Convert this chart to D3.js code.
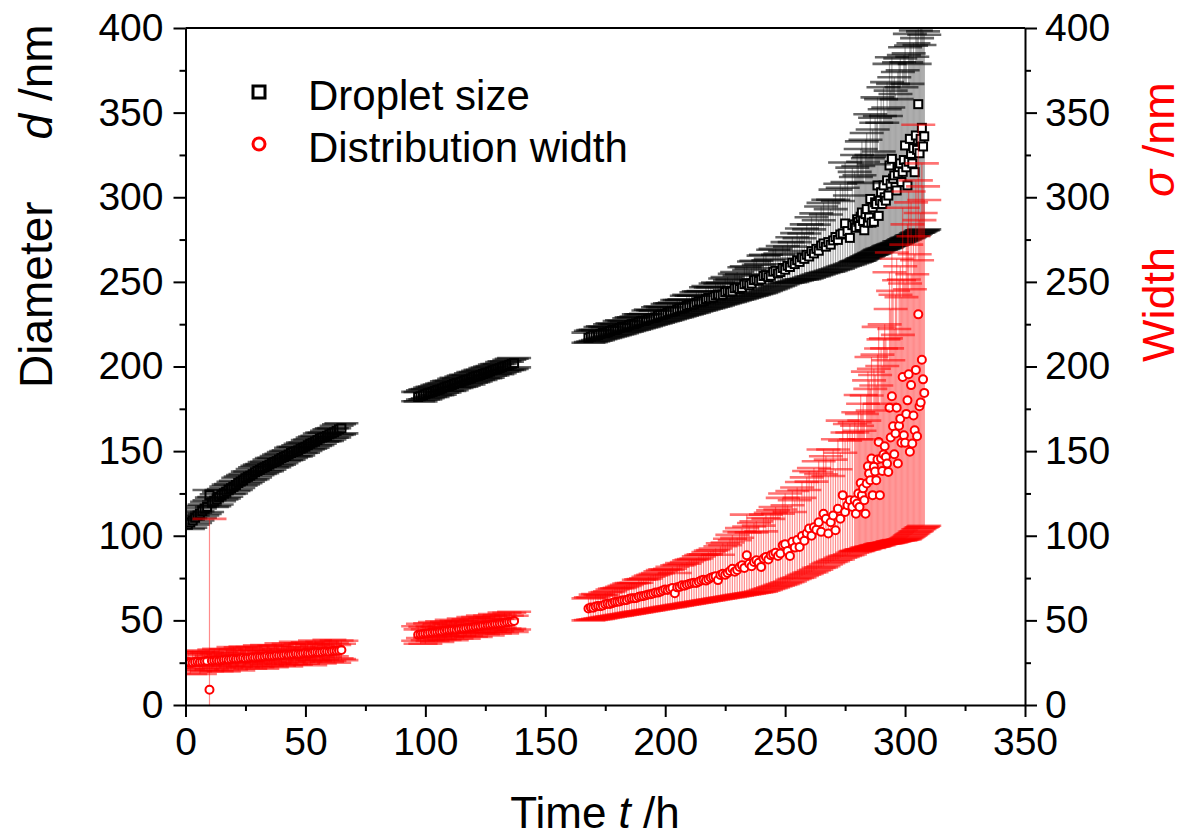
<!DOCTYPE html>
<html lang="en">
<head>
<meta charset="UTF-8">
<title>Droplet size and distribution width</title>
<script src="https://d3js.org/d3.v7.min.js"></script>
<style>
  body { margin: 0; background: #fff; }
  svg { display: block; font-family: Arial, "Liberation Sans", sans-serif; }
</style>
</head>
<body>
<svg id="chart" width="1183" height="839"></svg>
<script>
// time in h (three measurement runs)
const time = [
  1, 2, 3, 4, 5, 6, 7, 8, 9, 10,
  11, 12, 13, 14, 15, 16, 17, 18, 19, 20,
  21, 22, 23, 24, 25, 26, 27, 28, 29, 30,
  31, 32, 33, 34, 35, 36, 37, 38, 39, 40,
  41, 42, 43, 44, 45, 46, 47, 48, 49, 50,
  51, 52, 53, 54, 55, 56, 57, 58, 59, 60,
  61, 62, 63, 64, 65,
  97, 98, 99, 100, 101, 102, 103, 104, 105, 106,
  107, 108, 109, 110, 111, 112, 113, 114, 115, 116,
  117, 118, 119, 120, 121, 122, 123, 124, 125, 126,
  127, 128, 129, 130, 131, 132, 133, 134, 135, 136,
  137,
  168, 169, 170, 171, 172, 173, 174, 175, 176, 177,
  178, 179, 180, 181, 182, 183, 184, 185, 186, 187,
  188, 189, 190, 191, 192, 193, 194, 195, 196, 197,
  198, 199, 200, 201, 202, 203, 204, 205, 206, 207,
  208, 209, 210, 211, 212, 213, 214, 215, 216, 217,
  218, 219, 220, 221, 222, 223, 224, 225, 226, 227,
  228, 229, 230, 231, 232, 233, 234, 235, 236, 237,
  238, 239, 240, 241, 242, 243, 244, 245, 246, 247,
  248,
  249, 250, 251, 252, 253, 254, 255, 256, 257, 258, 259, 260, 261, 262, 263, 264, 265, 266, 267, 268, 269, 270, 271, 272, 273, 274, 275, 276, 277, 278, 279,
  279.5, 280, 280.5, 281, 281.5, 282, 282.5, 283, 283.5, 284, 284.5, 285, 285.5, 286, 286.5, 287, 287.5, 288, 288.5, 289, 289.5, 290, 290.5, 291, 291.5, 292, 292.5, 293, 293.5, 294,
  294.5, 295, 295.5, 296, 296.5, 297, 297.5, 298, 298.5, 299, 299.5, 300, 300.5, 301, 301.5, 302, 302.5, 303, 303.5, 304, 304.5, 305, 305.5, 306, 306.5, 307, 307.5, 308
];

// droplet diameter d /nm with lower / upper error
const diameter = [
  106.5, 107.8, 109, 110.6, 112, 113.1, 114.5, 115.9, 117, 124,
  119.5, 120.4, 121.5, 122.9, 124, 125.1, 126, 127.2, 128, 128.9,
  130, 131.2, 132, 132.8, 134, 134.9, 135.5, 136.4, 137.5, 138.3,
  139, 139.9, 140.5, 141.2, 142, 142.9, 143.5, 144.1, 145, 145.9,
  146.5, 147.1, 148, 148.9, 149.5, 149.9, 150.5, 151.4, 152, 152.6,
  153.5, 154.4, 155, 155.6, 156.5, 157.4, 158, 158.4, 159, 159.9,
  160.5, 161.1, 162, 162.9, 163.5,
  182, 182.4, 183, 183.6, 184.2, 184.5, 185, 185.6, 186.1, 186.4,
  187, 187.7, 188.2, 188.5, 189, 189.7, 190.3, 190.4, 191, 191.6,
  192.1, 192.4, 193, 193.7, 194.2, 194.5, 195, 195.6, 196.1, 196.4,
  197, 197.7, 198.2, 198.5, 199, 199.6, 200.1, 200.4, 201, 201.6,
  202,
  217, 217.6, 218.5, 218.2, 218.5, 219.3, 219.8, 219.9, 220.2, 221,
  221.5, 221.6, 222, 222.8, 223.3, 223.3, 223.6, 224.5, 225, 225,
  225.5, 226.3, 226.8, 226.9, 227.2, 228.1, 228.6, 228.7, 229, 230,
  230.5, 230.6, 231, 231.9, 232.4, 232.4, 232.8, 233.8, 234.3, 234.3,
  234.7, 235.8, 236.4, 236.3, 236.8, 237.9, 238.5, 238.3, 238.6, 239.8,
  240.5, 240.2, 240.8, 242, 242.6, 242, 242.5, 244, 244.8, 243.9,
  244.4, 246.2, 246.8, 245.8, 246.5, 248.6, 249.2, 248, 249, 251,
  251.5, 250.6, 251.4, 253.5, 254, 252.8, 253.6, 256, 256.5, 255,
  255.8,
  258.2, 257.2, 259.5, 258.8, 261.4, 260.5, 262.8, 261.8, 264.5, 263.6, 266, 265, 268.2, 266.8, 269.5, 268.4, 271.5, 272.7, 270.8, 273.5, 272, 274.5, 276.5, 274.8, 278, 278.6, 284.5, 280, 276, 283.5, 284,
  282, 287, 285.5, 283, 288.5, 291, 286, 280.5, 290, 293, 285, 288, 299, 285, 294, 285.5, 297, 296, 307, 289, 298, 303, 296, 307, 300, 298, 310, 301, 318.8, 308,
  322.7, 311, 312.9, 306, 304, 314, 317.8, 320, 309, 315, 322, 330.6, 317.7, 307, 321, 334.5, 325.6, 320, 329, 314.8, 336.5, 328, 355, 326, 334.5, 341, 330, 336
];
const diameterErrLow = [
  2.5, 3, 2.5, 3, 3, 2.5, 2.5, 3, 3, 3,
  2.5, 3, 3, 2.5, 2.5, 3, 3, 2.5, 3, 2.5,
  3, 3, 2.5, 2.5, 3, 3, 2.5, 3, 3, 2.5,
  2.5, 3, 2.5, 3, 3, 2.5, 3, 2.5, 3, 3,
  2.5, 2.5, 3, 3, 2.5, 3, 3, 2.5, 3, 2.5,
  2.5, 3, 3, 2.5, 3, 3, 2.5, 2.5, 3, 3,
  2.5, 3, 2.5, 3, 3,
  2.5, 3, 2.5, 3, 3, 2.5, 3, 2.5, 3, 3,
  2.5, 3, 2.5, 3, 3, 2.5, 3, 2.5, 3, 3,
  2.5, 3, 2.5, 3, 3, 2.5, 3, 2.5, 3, 3,
  2.5, 3, 2.5, 3, 3, 2.5, 3, 2.5, 3, 3,
  2.5,
  3, 3.2, 3.7, 3, 2.9, 3.2, 3.3, 3, 2.9, 3.3,
  3.4, 3.1, 3.1, 3.5, 3.6, 3.1, 3, 3.5, 3.6, 3.2,
  3.3, 3.7, 3.8, 3.5, 3.4, 3.8, 3.9, 3.6, 3.5, 4.1,
  4.2, 3.9, 3.9, 4.4, 4.5, 4, 4, 4.6, 4.7, 4.3,
  4.3, 5, 5.2, 4.7, 4.8, 5.4, 5.6, 5, 4.9, 5.7,
  6, 5.3, 5.5, 6.3, 6.5, 5.4, 5.5, 6.6, 7, 5.7,
  5.8, 7.2, 7.4, 6, 6.3, 7.9, 8.1, 6.5, 7.1, 8.7,
  8.8, 7.5, 7.9, 9.4, 9.4, 7.6, 7.9, 9.7, 9.7, 7.6,
  7.9,
  9.5, 8, 10, 9, 11.5, 10, 12, 10.5, 13, 12, 14, 12.5, 15, 13.5, 15.5, 14, 16.5, 17.5, 15, 17.5, 15.5, 17.5, 19, 17, 19.5, 19.5, 25, 20, 15.5, 22.5, 22.5,
  20, 25, 23, 20.5, 25.5, 27.5, 22, 16.5, 25.5, 28, 20, 22.5, 33, 19, 27.5, 18.5, 30, 28.5, 39, 20.5, 29, 34, 26.5, 37.5, 30, 28, 39.5, 30, 47.5, 36.5,
  51, 39, 40.5, 33.5, 31, 41, 44, 46, 35, 40.5, 47, 55.5, 42, 31, 45, 58, 48.5, 42.5, 51.5, 37, 58, 49, 76, 46.5, 54.5, 60.5, 49.5, 55
];
const diameterErrHigh = [
  3, 2.5, 3, 3, 2.5, 3, 3, 2.5, 3, 3,
  3, 2.5, 3, 3, 3, 2.5, 3, 3, 2.5, 3,
  2.5, 3, 3, 3, 2.5, 3, 2.5, 3, 3, 3,
  3, 2.5, 3, 2.5, 3, 3, 2.5, 3, 3, 2.5,
  3, 3, 2.5, 3, 3, 2.5, 3, 3, 3, 2.5,
  3, 2.5, 3, 3, 2.5, 3, 3, 2.5, 3, 3,
  3, 2.5, 3, 3, 3,
  3, 2.5, 3, 3, 2.5, 3, 3, 2.5, 3, 3,
  3, 2.5, 3, 3, 2.5, 3, 3, 2.5, 3, 3,
  3, 2.5, 3, 3, 2.5, 3, 3, 2.5, 3, 3,
  3, 2.5, 3, 3, 2.5, 3, 3, 2.5, 3, 3,
  3,
  3, 3.5, 3, 3.5, 3, 4, 4, 3.5, 3, 4,
  4, 3.5, 3, 4, 4, 3.5, 3, 4, 4, 4,
  4, 4.5, 4, 4, 4, 5, 5, 4.5, 4, 5,
  5, 4.5, 4, 5, 5, 5, 5, 5.5, 5, 5,
  5, 6, 6, 5.5, 5, 6, 6, 6, 6, 7,
  7, 6.5, 6, 7, 7, 7, 7, 8, 8, 7,
  7, 8.5, 9, 8, 8, 10, 10, 9, 9, 11,
  11, 9.5, 9, 12, 12, 10, 10, 13, 13, 11,
  11,
  13, 11, 14, 12, 15, 13, 16, 14, 17, 15, 18, 16, 20, 17, 21, 18, 23, 24, 19, 25, 21, 24, 28, 23, 30, 27, 36, 29, 25, 34, 31,
  30, 38, 33, 30, 40, 42, 35, 28, 44, 45, 38, 36, 50, 40, 46, 34, 50, 48, 52, 38, 50, 55, 48, 58, 52, 50, 58, 52, 60, 55,
  60, 56, 58, 55, 54, 60, 62, 62, 56, 60, 62, 58, 62, 60, 64, 62, 64, 63, 62, 64, 62, 66, 60, 64, 66, 62, 68, 60
];

// distribution width sigma /nm with lower / upper error
const width = [
  25.2, 24.9, 25, 25.4, 25.6, 25.3, 25.5, 25.9, 26, 9,
  26.1, 26.3, 26.5, 26.2, 26.4, 26.8, 26.9, 26.7, 27, 27.3,
  27.2, 27.4, 27.6, 27.8, 27.5, 27.7, 27.9, 28.2, 28.1, 28.4,
  28.3, 28.5, 28.6, 28.9, 28.7, 28.8, 29, 29.3, 29.2, 29.4,
  29.5, 29.8, 29.6, 29.8, 30, 30.3, 30.1, 30.2, 30.4, 30.7,
  30.6, 30.5, 30.8, 31.1, 31.1, 31, 31.3, 31.6, 31.6, 31.5,
  31.8, 32, 32.1, 32.2, 32.5,
  41.5, 41.7, 42, 42.2, 42.3, 42.7, 42.9, 43, 43.2, 43.4,
  43.5, 43.9, 44, 44.1, 44.3, 44.5, 44.3, 44.8, 45, 45.1,
  45.4, 45.7, 45.8, 45.9, 46.2, 46.4, 46.5, 46.9, 47, 47.1,
  47.3, 47.6, 47.8, 48, 48.2, 48.3, 48.6, 48.9, 49, 49.2,
  49.6,
  57, 57.6, 57.5, 58.2, 58.5, 58.4, 58.8, 59.5, 59.8, 59.7,
  60.2, 60.8, 61, 61.2, 61.8, 61.9, 62, 62.8, 63, 63.1,
  63.2, 64, 64.2, 64.4, 64.8, 65.3, 65.5, 65.9, 66.5, 66.4,
  67, 67.7, 68.2, 67.9, 68.5, 69.2, 66, 69.5, 69.8, 70.8,
  70.5, 71, 71.5, 72, 72.2, 72.1, 72.8, 73.6, 74, 73.5,
  74.3, 75.2, 75.6, 76, 73.8, 76.8, 77.5, 76.9, 78, 79.2,
  80.5, 78.8, 79.8, 81.5, 82.5, 81, 88.5, 83.5, 82, 84.5,
  85.5, 84, 81.6, 86.5, 87.5, 86, 88.5, 89, 90, 88,
  89.5,
  94.4, 95, 91, 88, 96.4, 93, 97.5, 93.4, 99.8, 97, 101.5, 104.3, 100, 105, 103.5, 108, 102.3, 113, 110, 101.3, 108, 112, 103.3, 116, 110, 124, 114.1, 118, 121, 117, 121,
  113, 119, 125, 117, 131.2, 124, 128, 121, 113, 130.9, 141, 136.8, 132.8, 145.6, 124, 140.7, 138, 132.8, 145, 155.4, 124, 145.6, 138.3, 148, 152.9, 146.6, 142.7, 137.7, 175.7, 158,
  182.4, 164.7, 148.2, 160.4, 175.7, 142.7, 165, 169.2, 155, 193.8, 159.4, 155, 172, 180, 195.4, 149.6, 189, 154.5, 171, 162.3, 198, 158.8, 230.8, 176.5, 178.7, 204, 192.4, 184.4
];
const widthErrLow = [
  4, 6.5, 3, 5.5, 2.5, 7, 4.5, 3, 6, 101,
  5, 2.5, 6.5, 4, 3, 7, 5, 3.5, 6, 2.5,
  4.5, 7, 3, 5.5, 4, 2.5, 6.5, 5, 3, 6,
  4, 7, 2.5, 5.5, 3.5, 6.5, 4.5, 3, 6, 5,
  2.5, 7, 4, 5.5, 3, 6.5, 4.5, 2.5, 6, 5,
  3.5, 7, 4, 5, 2.5, 6.5, 4.5, 3, 6, 5.5,
  3, 7, 4.5, 5, 6,
  3.5, 5.5, 2.5, 6, 4, 3, 5, 2.5, 6, 4.5,
  3, 5.5, 4, 2.5, 6, 3.5, 5, 4, 2.5, 6,
  4.5, 3, 5.5, 2.5, 6, 4, 3.5, 5, 2.5, 6,
  4, 3, 5.5, 4.5, 2.5, 6, 3.5, 5, 4, 6,
  5,
  7, 7.4, 7, 7.5, 7.6, 7.2, 7.4, 7.8, 7.9, 7.6,
  7.8, 8.2, 8.2, 8.1, 8.5, 8.4, 8.2, 8.8, 8.7, 8.6,
  8.5, 9, 9, 9, 9.1, 9.4, 9.4, 9.5, 9.9, 9.5,
  9.9, 10.4, 10.6, 10.1, 10.5, 10.9, 7.5, 10.8, 10.8, 11.6,
  11.1, 11.3, 11.6, 11.8, 11.8, 11.5, 11.9, 12.5, 12.7, 11.9,
  12.5, 13.2, 13.3, 13.5, 11, 13.8, 14.3, 13.4, 14.3, 15.3,
  16.3, 14.4, 15.2, 16.6, 17.4, 15.7, 22.9, 17.7, 16, 18.2,
  19, 17.2, 14.6, 19, 19.5, 17.5, 19.5, 19.5, 20, 17.5,
  18.5,
  23, 23, 18.5, 15, 22.5, 18.5, 22.5, 18, 23.5, 20, 24, 26, 21.5, 25.5, 23.5, 27, 21, 31, 27, 17.5, 23.5, 27, 17.5, 30, 23, 36.5, 26, 29.5, 32, 27, 30.5,
  22, 28, 34, 25.5, 39.5, 32, 36, 29, 20.5, 38, 48, 44, 39.5, 52, 30.5, 47, 44, 38.5, 50.5, 61, 29, 50.5, 43, 52.5, 57.5, 51, 47, 42, 79.5, 62,
  86, 68, 51.5, 63.5, 78.5, 45.5, 67.5, 72, 57.5, 96, 61.5, 57, 73.5, 81, 96, 49.5, 88.5, 53.5, 69.5, 60, 95.5, 56, 127, 72.5, 74, 99, 87, 78.5
];
const widthErrHigh = [
  6, 3, 7, 4.5, 5.5, 2.5, 6.5, 4, 5, 101,
  3, 6.5, 4, 7, 5, 2.5, 6, 4.5, 3, 7,
  5.5, 3, 6.5, 4, 7, 5, 2.5, 6, 4.5, 3.5,
  7, 5, 3, 6.5, 4, 2.5, 6, 5.5, 3.5, 7,
  4.5, 3, 6.5, 5, 2.5, 7, 4, 6, 3, 5.5,
  6.5, 3.5, 5, 7, 4, 2.5, 6, 4.5, 3, 7,
  5, 3.5, 6, 4, 5.5,
  5, 3, 6, 4, 2.5, 5.5, 3.5, 6, 3, 4.5,
  6, 2.5, 5, 4, 6, 3, 5.5, 2.5, 4.5, 6,
  3.5, 5, 2.5, 6, 4, 5.5, 3, 6, 4.5, 2.5,
  5.5, 4, 6, 3, 5, 2.5, 6, 4, 5.5, 3.5,
  5.5,
  6, 6, 6, 7, 7, 6.5, 6, 7, 7, 7.5,
  8, 8, 8, 8, 8, 8.5, 9, 9, 9, 9,
  9, 10, 10, 10, 10, 10.5, 11, 11, 11, 11.5,
  12, 12, 12, 12, 12, 12.5, 12, 13, 13, 13,
  13, 13.5, 14, 14, 14, 14.5, 15, 15, 15, 15.5,
  16, 16, 16, 16.5, 15, 17, 18, 17.5, 18, 19,
  20, 18.5, 19, 21, 22, 21, 24, 22, 20, 23,
  23, 22, 21, 24, 25, 24, 25, 26, 27, 25,
  26,
  28, 30, 27, 26, 30, 28, 31, 29, 32, 30, 33, 34, 32, 35, 34, 36, 34, 38, 37, 34, 37, 39, 36, 41, 39, 44, 42, 43, 45, 44, 46,
  44, 46, 48, 45, 52, 48, 50, 47, 44, 52, 56, 55, 54, 60, 50, 58, 57, 56, 62, 68, 54, 65, 62, 68, 72, 70, 68, 66, 80, 76,
  85, 80, 74, 82, 88, 76, 86, 90, 86, 100, 92, 94, 100, 104, 108, 96, 108, 100, 106, 104, 112, 104, 112, 110, 112, 116, 114, 114
];

const xTicks = [0, 50, 100, 150, 200, 250, 300, 350];
const yTicks = [0, 50, 100, 150, 200, 250, 300, 350, 400];
const legendLabels = ["Droplet size", "Distribution width"];

const svg = d3.select("#chart");
const plotLeft = 185.5, plotRight = 1025, plotTop = 28, plotBottom = 705;
const x = d3.scaleLinear().domain([0, 350]).range([plotLeft, plotRight]);
const yL = d3.scaleLinear().domain([0, 400]).range([plotBottom, plotTop]);
const yR = d3.scaleLinear().domain([0, 400]).range([plotBottom, plotTop]);
const capW = 17;
const fontSize = 39;

svg.append("defs").append("clipPath").attr("id", "clip")
  .append("rect").attr("x", plotLeft).attr("y", plotTop)
  .attr("width", plotRight - plotLeft).attr("height", plotBottom - plotTop);

const plot = svg.append("g").attr("clip-path", "url(#clip)");

// vertical bars, then markers, then the wide caps on top
function drawSeries(vals, lo, hi, color, barOpacity, capOpacity, marker) {
  const idx = time.map((t, i) => i).filter(i => vals[i] != null);
  const g = plot.append("g");
  g.append("g").attr("stroke", color).attr("stroke-opacity", barOpacity).attr("stroke-width", 1.2)
    .selectAll("line").data(idx).join("line")
    .attr("x1", i => x(time[i])).attr("x2", i => x(time[i]))
    .attr("y1", i => yL(vals[i] - lo[i])).attr("y2", i => yL(vals[i] + hi[i]));
  const mg = g.append("g");
  idx.forEach(i => marker(mg, x(time[i]), yL(vals[i])));
  const caps = g.append("g").attr("stroke", color).attr("stroke-opacity", capOpacity).attr("stroke-width", 2.6);
  idx.forEach(i => {
    const cx = x(time[i]);
    [vals[i] - lo[i], vals[i] + hi[i]].forEach(v => {
      caps.append("line").attr("x1", cx - capW).attr("x2", cx + capW).attr("y1", yL(v)).attr("y2", yL(v));
    });
  });
}

function square(g, cx, cy) {
  g.append("rect").attr("x", cx - 4).attr("y", cy - 4).attr("width", 8).attr("height", 8)
    .attr("fill", "#fff").attr("stroke", "#000").attr("stroke-width", 2);
}
function circle(g, cx, cy) {
  g.append("circle").attr("cx", cx).attr("cy", cy).attr("r", 4)
    .attr("fill", "#fff").attr("stroke", "#ff0000").attr("stroke-width", 2);
}

drawSeries(diameter, diameterErrLow, diameterErrHigh, "#000", 0.35, 0.6, square);
drawSeries(width, widthErrLow, widthErrHigh, "#ff0000", 0.45, 0.55, circle);

// axes
function styleAxis(g) {
  g.selectAll("path, line").attr("stroke", "#000").attr("stroke-width", 2);
  g.selectAll("text").attr("font-size", fontSize).attr("font-family", "Arial, 'Liberation Sans', sans-serif").attr("fill", "#000");
}
const minorY = [25, 75, 125, 175, 225, 275, 325, 375];
const minorX = [25, 75, 125, 175, 225, 275, 325];

svg.append("g").attr("transform", `translate(${plotLeft},0)`)
  .call(d3.axisLeft(yL).tickValues(yTicks).tickSize(12).tickSizeOuter(0).tickPadding(10)).call(styleAxis);
svg.append("g").attr("transform", `translate(${plotLeft},0)`)
  .call(d3.axisLeft(yL).tickValues(minorY).tickSize(6).tickFormat("")).call(styleAxis)
  .select(".domain").remove();

svg.append("g").attr("transform", `translate(${plotRight},0)`)
  .call(d3.axisRight(yR).tickValues(yTicks).tickSize(12).tickSizeOuter(0).tickPadding(8)).call(styleAxis);
svg.append("g").attr("transform", `translate(${plotRight},0)`)
  .call(d3.axisRight(yR).tickValues(minorY).tickSize(6).tickFormat("")).call(styleAxis)
  .select(".domain").remove();

svg.append("g").attr("transform", `translate(0,${plotBottom})`)
  .call(d3.axisBottom(x).tickValues(xTicks).tickSize(12).tickSizeOuter(0).tickPadding(10)).call(styleAxis);
svg.append("g").attr("transform", `translate(0,${plotBottom})`)
  .call(d3.axisBottom(x).tickValues(minorX).tickSize(6).tickFormat("")).call(styleAxis)
  .select(".domain").remove();

svg.append("line").attr("x1", plotLeft).attr("x2", plotRight).attr("y1", plotTop).attr("y2", plotTop)
  .attr("stroke", "#000").attr("stroke-width", 2);

// axis titles
const leftTitle = svg.append("text").attr("transform", "translate(52,388) rotate(-90)")
  .attr("font-size", 46).attr("fill", "#000");
leftTitle.append("tspan").text("Diameter");
leftTitle.append("tspan").attr("dx", 62).attr("font-style", "italic").text("d");
leftTitle.append("tspan").text(" /nm");

const rightTitle = svg.append("text").attr("transform", "translate(1174,362) rotate(-90)")
  .attr("font-size", 45).attr("fill", "#ff0000");
rightTitle.append("tspan").text("Width");
rightTitle.append("tspan").attr("dx", 50).attr("font-style", "italic").text("σ");
rightTitle.append("tspan").text(" /nm");

const xTitle = svg.append("text").attr("x", 595).attr("y", 828).attr("text-anchor", "middle")
  .attr("font-size", 44).attr("fill", "#000");
xTitle.append("tspan").text("Time ");
xTitle.append("tspan").attr("font-style", "italic").text("t");
xTitle.append("tspan").text(" /h");

// legend
const legend = svg.append("g");
legend.append("rect").attr("x", 253).attr("y", 86).attr("width", 12).attr("height", 12)
  .attr("fill", "#fff").attr("stroke", "#000").attr("stroke-width", 3);
legend.append("circle").attr("cx", 259).attr("cy", 144).attr("r", 6)
  .attr("fill", "#fff").attr("stroke", "#ff0000").attr("stroke-width", 3);
legend.selectAll("text.lab").data(legendLabels).join("text").attr("class", "lab")
  .attr("x", 308).attr("y", (d, i) => 110 + i * 52)
  .attr("font-size", 42).attr("fill", "#000").text(d => d);
</script>
</body>
</html>
